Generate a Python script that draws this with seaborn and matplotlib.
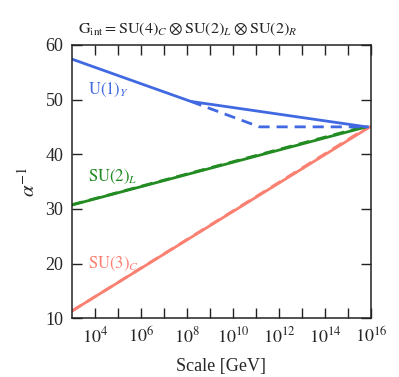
import numpy as np
import pandas as pd
import matplotlib
matplotlib.use("Agg")
import matplotlib.pyplot as plt
import seaborn as sns

# ---- data (log10 of scale in GeV, inverse couplings) ----
u1_logmu = [3.0, 8.17, 15.8]
u1_inv = [57.4, 49.65, 45.0]
u1d_logmu = [8.17, 11.15, 15.9]
u1d_inv = [49.65, 45.0, 45.0]
su2_logmu = [3.0, 15.8]
su2_inv = [30.7, 45.0]
su2d_logmu = [3.0, 15.8]
su2d_inv = [30.75, 45.15]
su3_logmu = [3.0, 15.95]
su3_inv = [11.3, 45.0]
su3d_logmu = [3.0, 15.9]
su3d_inv = [11.3, 45.05]

xtick_exps = list(range(4, 17))
ylabels_ticks = [10, 20, 30, 40, 50, 60]

sns.set_style("ticks")
plt.rcParams['font.family'] = ['Liberation Serif', 'DejaVu Serif']
plt.rcParams['mathtext.fontset'] = 'stix'

blue = '#4169E1'
green = '#228B22'
salmon = '#FA8072'

fig = plt.figure(figsize=(3.99, 3.77), dpi=100)
ax = fig.add_axes([0.180, 0.156, 0.750, 0.725])

def df(lx, y):
    return pd.DataFrame({'mu': [10.0 ** v for v in lx], 'inv': y})

lw = 2.0
sns.lineplot(data=df(su3d_logmu, su3d_inv), x='mu', y='inv', ax=ax, color=salmon, lw=lw, linestyle=(0, (4, 2.5)))
sns.lineplot(data=df(su3_logmu, su3_inv), x='mu', y='inv', ax=ax, color=salmon, lw=lw)
sns.lineplot(data=df(su2d_logmu, su2d_inv), x='mu', y='inv', ax=ax, color=green, lw=lw, linestyle=(0, (4, 2.5)))
sns.lineplot(data=df(su2_logmu, su2_inv), x='mu', y='inv', ax=ax, color=green, lw=lw)
sns.lineplot(data=df(u1d_logmu, u1d_inv), x='mu', y='inv', ax=ax, color=blue, lw=lw, linestyle=(0, (4, 2.5)))
sns.lineplot(data=df(u1_logmu, u1_inv), x='mu', y='inv', ax=ax, color=blue, lw=lw)

ax.set_xscale('log')
ax.set_xlim(1e3, 1e16)
ax.set_ylim(10, 60)
ax.set_xticks([10.0 ** e for e in xtick_exps])
ax.set_xticklabels([f'$10^{{{e}}}$' if e % 2 == 0 else '' for e in xtick_exps])
ax.xaxis.set_minor_locator(matplotlib.ticker.NullLocator())
ax.set_yticks(ylabels_ticks)
ax.set_yticklabels([str(v) for v in ylabels_ticks])

ax.tick_params(axis='both', which='major', direction='in', length=7, width=1,
               top=True, right=True, labelsize=13, pad=6, color='#222222')
for s in ax.spines.values():
    s.set_linewidth(1.1)
    s.set_color('#222222')

ax.set_xlabel('Scale [GeV]', fontsize=13, labelpad=8)
ax.set_ylabel(r'$\alpha^{-1}$', fontsize=15, labelpad=4)
ax.set_title(r'$\mathrm{G}_{\mathrm{int}} = \mathrm{SU}(4)_C \otimes \mathrm{SU}(2)_L \otimes \mathrm{SU}(2)_R$',
             fontsize=11.6, loc='left', x=0.02, pad=8)

ax.text(10 ** 3.7, 51.8, r'$\mathrm{U}(1)_Y$', color=blue, fontsize=12, va='center')
ax.text(10 ** 3.7, 35.8, r'$\mathrm{SU}(2)_L$', color=green, fontsize=12, va='center')
ax.text(10 ** 3.7, 20.0, r'$\mathrm{SU}(3)_C$', color=salmon, fontsize=12, va='center')

fig.savefig('out.png', dpi=100)
